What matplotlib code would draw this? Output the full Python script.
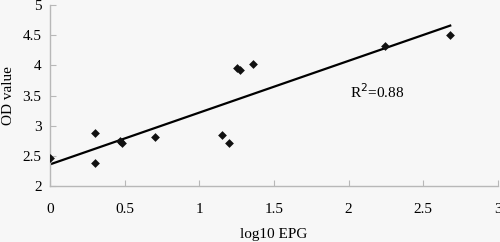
import numpy as np
import matplotlib
matplotlib.use("Agg")
from matplotlib import pyplot as plt

plt.rcParams['font.family'] = ['Liberation Serif', 'DejaVu Serif']

# values
log_epg = [0.0, 0.30, 0.30, 0.47, 0.48, 0.70, 1.15, 1.20, 1.25, 1.27, 1.36, 2.24, 2.68]
od_value = [2.47, 2.88, 2.39, 2.75, 2.71, 2.81, 2.84, 2.71, 3.95, 3.93, 4.02, 4.33, 4.51]
trend_x = [0.0, 2.68]
trend_y = [2.36, 4.66]
r2_text = "R$^2$=0.88"

bg = '#f7f7f7'
axis_col = '#b8b8b8'

fig = plt.figure(figsize=(5, 2.42), dpi=100, facecolor=bg)
ax = fig.add_axes([0.1, 0.231, 0.896, 0.748], facecolor=bg)

ax.plot(trend_x, trend_y, color='black', lw=1.6, zorder=2)
ax.scatter(log_epg, od_value, marker='D', s=20, color='#111111', zorder=3, linewidths=0)

ax.text(2.19, 3.56, r2_text, fontsize=11, ha='center', va='center')

ax.set_xlim(0, 3)
ax.set_ylim(2, 5)
ax.set_xticks(np.arange(0, 3.01, 0.5))
ax.set_yticks(np.arange(2, 5.01, 0.5))
ax.set_xticklabels(['0', '0.5', '1', '1.5', '2', '2.5', '3'])
ax.set_yticklabels(['2', '2.5', '3', '3.5', '4', '4.5', '5'])

for side in ['top', 'right']:
    ax.spines[side].set_visible(False)
for side in ['left', 'bottom']:
    ax.spines[side].set_color(axis_col)
    ax.spines[side].set_linewidth(1)

ax.tick_params(axis='both', direction='in', length=4, color=axis_col, labelsize=11)
ax.tick_params(axis='x', pad=12)
ax.tick_params(axis='y', pad=6)

ax.set_xlabel('log10 EPG', fontsize=11)
ax.set_ylabel('OD value', fontsize=11)
ax.yaxis.set_label_coords(-0.078, 0.5)
ax.xaxis.set_label_coords(0.5, -0.232)

fig.savefig('out.png', dpi=100, facecolor=bg)
